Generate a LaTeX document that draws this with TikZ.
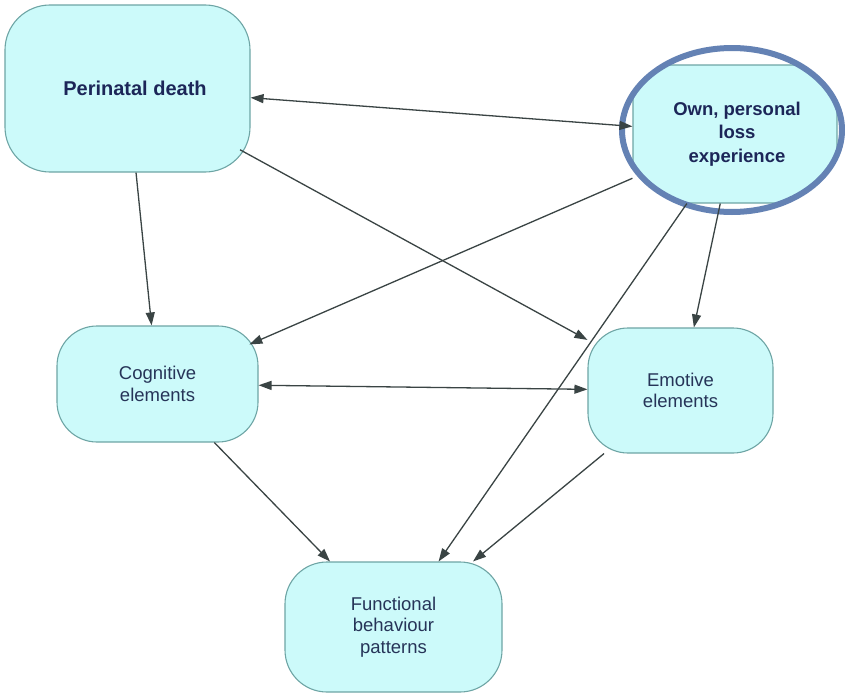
\documentclass[tikz,border=0pt]{standalone}
\usepackage{fontspec}
\setmainfont{Liberation Sans}
\usetikzlibrary{arrows.meta}
\definecolor{boxfill}{RGB}{204,250,250}
\definecolor{boxline}{RGB}{110,165,165}
\definecolor{txtbold}{RGB}{28,38,88}
\definecolor{txtreg}{RGB}{38,52,88}
\definecolor{arrowcol}{RGB}{58,68,68}
\definecolor{ringcol}{RGB}{100,130,180}
\begin{document}
\begin{tikzpicture}[x=1pt,y=-1pt,
  box/.style={draw=boxline, line width=1.1pt, fill=boxfill, inner sep=0pt, align=center},
  bigtxt/.style={font=\fontsize{20}{24}\selectfont\bfseries, text=txtbold},
  owntxt/.style={font=\fontsize{18.5}{23.3}\selectfont\bfseries, text=txtbold},
  regtxt/.style={font=\fontsize{18.5}{21.7}\selectfont, text=txtreg},
  conn/.style={draw=arrowcol, line width=1.3pt, -{Triangle[length=13pt,width=9pt]}},
  conn2/.style={draw=arrowcol, line width=1.3pt, {Triangle[length=13pt,width=9pt]}-{Triangle[length=13pt,width=9pt]}}
]
\useasboundingbox (0,0) rectangle (845,696);
\fill[white] (0,0) rectangle (845,696);

\node[box, bigtxt, minimum width=245pt, minimum height=167pt, rounded corners=45pt] (per) at (127.5,88.5) {\hspace*{15pt}Perinatal death};
\node[box, owntxt, minimum width=204pt, minimum height=138pt, rounded corners=22pt] (own) at (735,134) {\hspace*{4pt}Own, personal\\\hspace*{4pt}loss\\\hspace*{4pt}experience};
\node[box, regtxt, minimum width=201pt, minimum height=116pt, rounded corners=40pt] (cog) at (157.5,384) {Cognitive\\elements};
\node[box, regtxt, minimum width=185pt, minimum height=125pt, rounded corners=40pt] (emo) at (680.5,390.5) {Emotive\\elements};
\node[box, regtxt, minimum width=217pt, minimum height=130pt, rounded corners=42pt] (fun) at (393.5,627) {Functional\\behaviour\\patterns};

% white mask outside the ring, then the ring
\fill[white, even odd rule] ([shift={(-4,4)}]own.south west) rectangle ([shift={(4,-4)}]own.north east)
  ([shift={(-3,-4)}]own.center) ellipse [x radius=110, y radius=82];
\draw[ringcol, line width=6pt] ([shift={(-3,-4)}]own.center) ellipse [x radius=110, y radius=82];

\draw[conn2] (per) -- (own);
\draw[conn] (per) -- (cog);
\draw[conn, shorten <=-12pt] (per) -- (emo);
\draw[conn, shorten >=-10pt] (own) -- (cog);
\draw[conn2] (cog) -- (emo);
\draw[conn] (own) -- (emo);
\draw[conn] (own) -- (fun);
\draw[conn] (cog) -- (fun);
\draw[conn] (emo) -- (fun);
\end{tikzpicture}
\end{document}
